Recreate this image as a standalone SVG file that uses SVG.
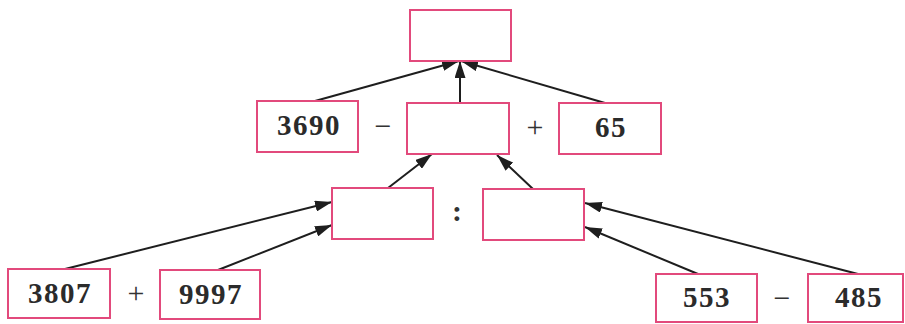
<svg xmlns="http://www.w3.org/2000/svg" width="905" height="324" viewBox="0 0 905 324">
<style>
.box{fill:none;stroke:#e24a7c;stroke-width:2}
.num{font-family:"Liberation Serif",serif;font-weight:bold;font-size:29px;fill:#2b2b2b;text-anchor:middle;letter-spacing:1.5px}
.op{font-family:"Liberation Serif",serif;font-size:30px;fill:#333;text-anchor:middle}
.con line{stroke:#1e1e1e;stroke-width:2;marker-end:url(#ah)}
</style>
<defs>
<marker id="ah" markerUnits="userSpaceOnUse" markerWidth="18" markerHeight="11" refX="17" refY="5.5" orient="auto">
<path d="M0,0 L17,5.5 L0,11 Z" fill="#1e1e1e"/>
</marker>
</defs>
<rect width="905" height="324" fill="#ffffff"/>
<g class="con">
<line x1="315" y1="101" x2="459" y2="61"/>
<line x1="460" y1="103" x2="460" y2="61"/>
<line x1="605" y1="103" x2="461" y2="61"/>
<line x1="388" y1="188" x2="432" y2="154"/>
<line x1="533" y1="189" x2="497" y2="155"/>
<line x1="65" y1="269" x2="332" y2="202"/>
<line x1="218" y1="270" x2="332" y2="225"/>
<line x1="698" y1="274" x2="585" y2="227"/>
<line x1="858" y1="274" x2="585" y2="203"/>
</g>
<g id="top"><rect class="box" x="410" y="10" width="101" height="51"/></g>
<g id="n3690"><rect class="box" x="257" y="101" width="101" height="51"/><text class="num" x="309" y="135">3690</text></g>
<g id="op-minus1"><text class="op" x="383" y="136">−</text></g>
<g id="mid"><rect class="box" x="407" y="103" width="102" height="51"/></g>
<g id="op-plus1"><text class="op" x="535" y="137">+</text></g>
<g id="n65"><rect class="box" x="559" y="103" width="102" height="51"/><text class="num" x="611" y="137">65</text></g>
<g id="left3"><rect class="box" x="332" y="188" width="101" height="51"/></g>
<g id="op-div"><text class="op" x="457" y="221" font-weight="bold">:</text></g>
<g id="right3"><rect class="box" x="483" y="189" width="101" height="51"/></g>
<g id="n3807"><rect class="box" x="8" y="269" width="102" height="49"/><text class="num" x="60" y="303">3807</text></g>
<g id="op-plus2"><text class="op" x="136" y="303">+</text></g>
<g id="n9997"><rect class="box" x="160" y="270" width="100" height="49"/><text class="num" x="211" y="304">9997</text></g>
<g id="n553"><rect class="box" x="656" y="274" width="101" height="48"/><text class="num" x="707" y="307">553</text></g>
<g id="op-minus2"><text class="op" x="782" y="308">−</text></g>
<g id="n485"><rect class="box" x="808" y="274" width="95" height="48"/><text class="num" x="859" y="307">485</text></g>
</svg>
